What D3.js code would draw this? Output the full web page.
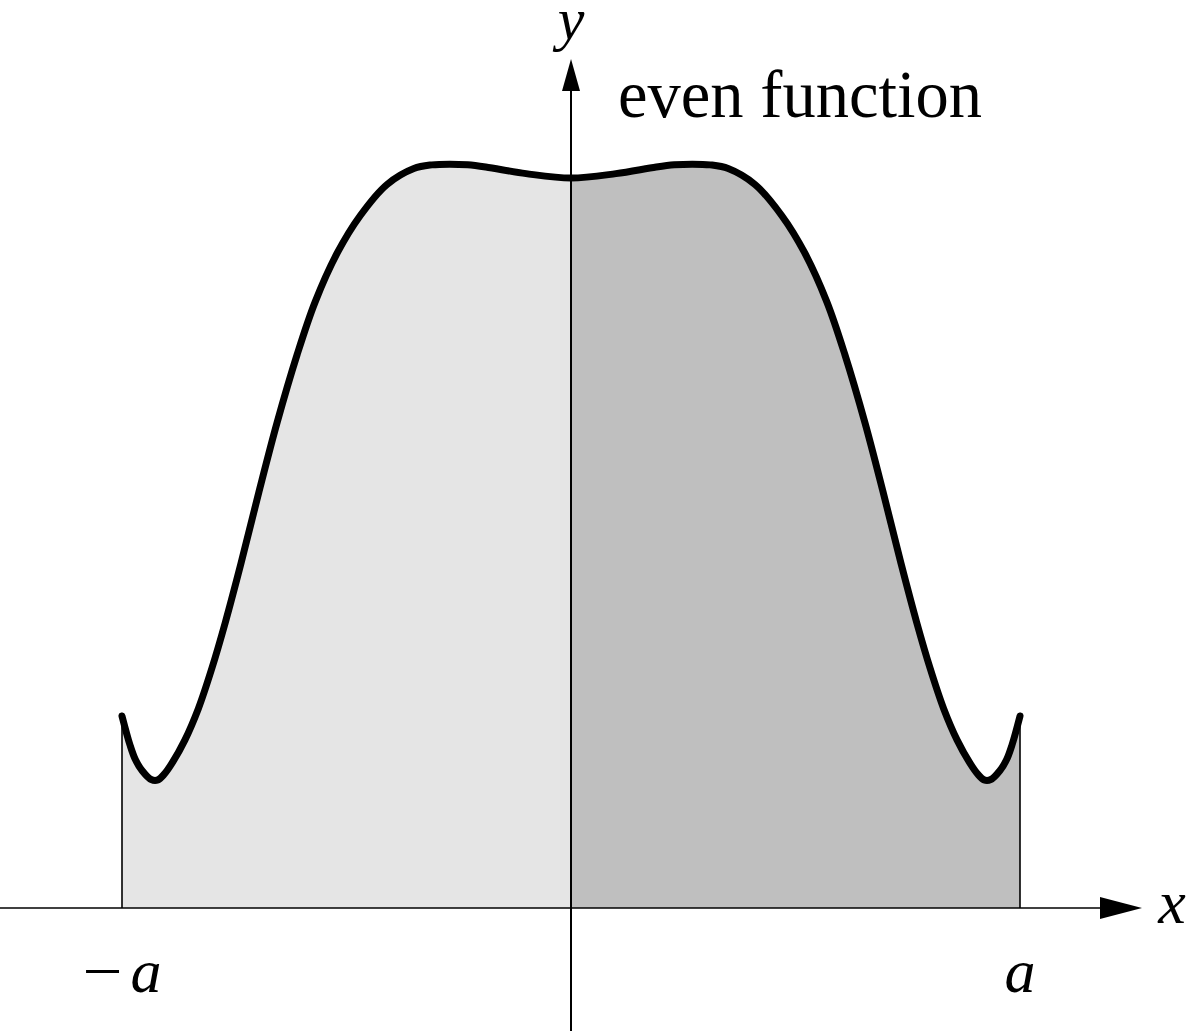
<!DOCTYPE html>
<html>
<head>
<meta charset="utf-8">
<script src="https://cdn.jsdelivr.net/npm/d3@7"></script>
<style>
  body { margin: 0; background: #fff; }
  svg { display: block; }
</style>
</head>
<body>
<div id="chart"></div>
<script>
// Curve samples, x in units of a, y relative to f(0)
const xValues = [
  -1.0, -0.982, -0.97, -0.955, -0.935, -0.92, -0.905, -0.89, -0.86, -0.83,
  -0.80, -0.77, -0.735, -0.695, -0.655, -0.61, -0.57, -0.52, -0.47, -0.41,
  -0.35, -0.31, -0.27, -0.23, -0.19, -0.10, 0.0,
  0.10, 0.19, 0.23, 0.27, 0.31, 0.35, 0.41, 0.47, 0.52, 0.57,
  0.61, 0.655, 0.695, 0.735, 0.77, 0.80, 0.83, 0.86, 0.89, 0.905,
  0.92, 0.935, 0.955, 0.97, 0.982, 1.0
];
const yValues = [
  0.263, 0.223, 0.203, 0.188, 0.176, 0.1755, 0.184, 0.197, 0.230, 0.273,
  0.328, 0.391, 0.472, 0.570, 0.664, 0.758, 0.830, 0.898, 0.948, 0.991,
  1.013, 1.018, 1.019, 1.018, 1.015, 1.006, 1.000,
  1.006, 1.015, 1.018, 1.019, 1.018, 1.013, 0.991, 0.948, 0.898, 0.830,
  0.758, 0.664, 0.570, 0.472, 0.391, 0.328, 0.273, 0.230, 0.197, 0.184,
  0.1755, 0.176, 0.188, 0.203, 0.223, 0.263
];
const xTickValues = [-1, 1];
const xTickLabels = ["a", "a"]; // the first one gets a minus sign
const curveTitle = "even function";

const data = xValues.map((x, i) => ({ x: x, y: yValues[i] }));

const width = 1198;
const height = 1031;

const svg = d3.select("#chart")
  .append("svg")
  .attr("width", width)
  .attr("height", height);

// Scales: -a..a spans 122..1020 px, y=0 sits at 908 px
const xScale = d3.scaleLinear().domain([-1, 1]).range([122, 1020]);
const yScale = d3.scaleLinear().domain([0, 1]).range([908, 178]);

const x0 = xScale(0);
const y0 = yScale(0);

// Clip paths for left / right halves
const defs = svg.append("defs");
defs.append("clipPath").attr("id", "clip-left")
  .append("rect")
  .attr("x", xScale(-1)).attr("y", 0)
  .attr("width", x0 - xScale(-1)).attr("height", y0);
defs.append("clipPath").attr("id", "clip-right")
  .append("rect")
  .attr("x", x0).attr("y", 0)
  .attr("width", xScale(1) - x0).attr("height", y0);

const area = d3.area()
  .x(d => xScale(d.x))
  .y0(y0)
  .y1(d => yScale(d.y))
  .curve(d3.curveCatmullRom.alpha(0.5));

const line = d3.line()
  .x(d => xScale(d.x))
  .y(d => yScale(d.y))
  .curve(d3.curveCatmullRom.alpha(0.5));

// Shaded areas
svg.append("path")
  .datum(data)
  .attr("d", area)
  .attr("fill", "#e5e5e5")
  .attr("clip-path", "url(#clip-left)");

svg.append("path")
  .datum(data)
  .attr("d", area)
  .attr("fill", "#bfbfbf")
  .attr("clip-path", "url(#clip-right)");

// Vertical edges at -a and a
svg.selectAll(".edge")
  .data([data[0], data[data.length - 1]])
  .enter()
  .append("line")
  .attr("class", "edge")
  .attr("x1", d => xScale(d.x))
  .attr("x2", d => xScale(d.x))
  .attr("y1", y0)
  .attr("y2", d => yScale(d.y))
  .attr("stroke", "#000")
  .attr("stroke-width", 1.6);

// x axis with arrow
svg.append("line")
  .attr("x1", 0).attr("x2", 1104)
  .attr("y1", y0).attr("y2", y0)
  .attr("stroke", "#000")
  .attr("stroke-width", 1.6);
svg.append("path")
  .attr("d", `M1100,${y0 - 11}L1142,${y0}L1100,${y0 + 11}Z`)
  .attr("fill", "#000");

// y axis with arrow
svg.append("line")
  .attr("x1", x0).attr("x2", x0)
  .attr("y1", height).attr("y2", 86)
  .attr("stroke", "#000")
  .attr("stroke-width", 2);
svg.append("path")
  .attr("d", `M${x0 - 9},91L${x0},59L${x0 + 9},91Z`)
  .attr("fill", "#000");

// The curve itself
svg.append("path")
  .datum(data)
  .attr("d", line)
  .attr("fill", "none")
  .attr("stroke", "#000")
  .attr("stroke-width", 7)
  .attr("stroke-linecap", "round")
  .attr("stroke-linejoin", "round");

// Labels
const serif = "'Liberation Serif', 'DejaVu Serif', serif";

svg.append("text")
  .attr("x", 1172).attr("y", 923)
  .attr("text-anchor", "middle")
  .style("font-family", serif)
  .style("font-style", "italic")
  .style("font-size", "62px")
  .text("x");

svg.append("text")
  .attr("x", x0).attr("y", 39)
  .attr("text-anchor", "middle")
  .style("font-family", serif)
  .style("font-style", "italic")
  .style("font-size", "60px")
  .text("y");

svg.append("text")
  .attr("x", 618).attr("y", 117)
  .attr("textLength", 364)
  .attr("lengthAdjust", "spacingAndGlyphs")
  .style("font-family", serif)
  .style("font-size", "68px")
  .text(curveTitle);

xTickValues.forEach((v, i) => {
  const t = svg.append("text")
    .attr("x", xScale(v))
    .attr("y", 992)
    .attr("text-anchor", "middle")
    .style("font-family", serif)
    .style("font-size", "62px");
  if (v < 0) {
    t.append("tspan").attr("textLength", 40).attr("lengthAdjust", "spacingAndGlyphs").text("\u2212");
    t.append("tspan").attr("dx", 8).style("font-style", "italic").text(xTickLabels[i]);
  } else {
    t.append("tspan").style("font-style", "italic").text(xTickLabels[i]);
  }
});
</script>
</body>
</html>
